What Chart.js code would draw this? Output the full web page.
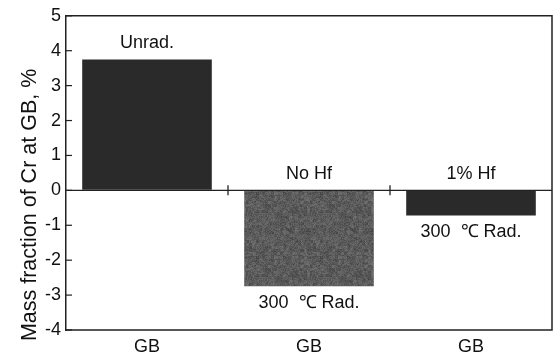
<!DOCTYPE html>
<html>
<head>
<meta charset="utf-8">
<script src="https://cdn.jsdelivr.net/npm/chart.js@4"></script>
<style>
html,body{margin:0;padding:0;background:#fff;}
#wrap{width:556px;height:357px;position:relative;}
</style>
</head>
<body>
<div id="wrap"><canvas id="c" width="556" height="357"></canvas></div>
<script>
// ---- data ----
const categories = ['GB', 'GB', 'GB'];
const values = [3.75, -2.75, -0.72];
const topLabels = ['Unrad.', 'No Hf', '1% Hf'];
const bottomLabels = ['', '300  \u2103 Rad.', '300  \u2103 Rad.'];
const yTicks = [-4, -3, -2, -1, 0, 1, 2, 3, 4, 5];
const yTitle = 'Mass fraction of Cr at GB, %';

const FONT = '"Liberation Sans", Arial, sans-serif';
const INK = '#222';

// deterministic grainy gray texture for the middle bar
function makeTexture() {
  const c = document.createElement('canvas');
  c.width = 64; c.height = 64;
  const g = c.getContext('2d');
  const img = g.createImageData(64, 64);
  for (let y = 0; y < 64; y++) {
    for (let x = 0; x < 64; x++) {
      const h = Math.sin(x * 12.9898 + y * 78.233) * 43758.5453;
      const f = h - Math.floor(h);
      const h2 = Math.sin(Math.floor(x / 3) * 4.1 + Math.floor(y / 3) * 9.7) * 1000.3;
      const f2 = h2 - Math.floor(h2);
      const v = Math.round(66 + f * 28 + f2 * 22);
      const i = (y * 64 + x) * 4;
      img.data[i] = v; img.data[i + 1] = v; img.data[i + 2] = v; img.data[i + 3] = 255;
    }
  }
  g.putImageData(img, 0, 0);
  return g.createPattern(c, 'repeat');
}
const ctx0 = document.getElementById('c').getContext('2d');
const tex = makeTexture();
const barColors = ['#2a2a2a', tex, '#2a2a2a'];

const decor = {
  id: 'decor',
  afterDraw(chart) {
    const ctx = chart.ctx;
    const a = chart.chartArea;
    const y = chart.scales.y, x = chart.scales.x;
    ctx.save();
    ctx.strokeStyle = INK;
    ctx.lineWidth = 1.5;
    // frame (top, right, bottom)
    ctx.beginPath();
    ctx.moveTo(a.left, a.top); ctx.lineTo(a.right, a.top);
    ctx.lineTo(a.right, a.bottom); ctx.lineTo(a.left, a.bottom);
    ctx.stroke();
    // inward y ticks
    ctx.lineWidth = 1.2;
    yTicks.forEach(v => {
      const py = y.getPixelForValue(v);
      ctx.beginPath(); ctx.moveTo(a.left, py); ctx.lineTo(a.left + 6, py); ctx.stroke();
    });
    // zero line with category boundary ticks
    const zy = y.getPixelForValue(0);
    ctx.lineWidth = 1.3;
    ctx.beginPath(); ctx.moveTo(a.left, zy); ctx.lineTo(a.right, zy); ctx.stroke();
    for (let i = 1; i < categories.length; i++) {
      const bx = (x.getPixelForValue(i - 1) + x.getPixelForValue(i)) / 2;
      ctx.beginPath(); ctx.moveTo(bx, zy - 5); ctx.lineTo(bx, zy + 5); ctx.stroke();
    }
    // annotations
    ctx.fillStyle = '#111';
    ctx.font = '18px ' + FONT;
    ctx.textAlign = 'center';
    const meta = chart.getDatasetMeta(0);
    values.forEach((v, i) => {
      const bar = meta.data[i];
      const cx = bar.x;
      const topY = y.getPixelForValue(Math.max(v, 0));
      ctx.textBaseline = 'alphabetic';
      if (topLabels[i]) ctx.fillText(topLabels[i], cx, topY - 11);
      if (bottomLabels[i]) {
        const botY = y.getPixelForValue(Math.min(v, 0));
        ctx.textBaseline = 'top';
        ctx.fillText(bottomLabels[i], cx, botY + 8);
      }
    });
    // y title
    ctx.font = '21.5px ' + FONT;
    ctx.translate(30, (a.top + a.bottom) / 2 + 32);
    ctx.rotate(-Math.PI / 2);
    ctx.textBaseline = 'middle';
    ctx.fillText(yTitle, 0, 0);
    ctx.restore();
  }
};

new Chart(ctx0, {
  type: 'bar',
  data: {
    labels: categories,
    datasets: [{
      data: values,
      backgroundColor: barColors,
      borderWidth: 0,
      barPercentage: 0.8,
      categoryPercentage: 1.0
    }]
  },
  options: {
    responsive: false,
    animation: false,
    devicePixelRatio: 1,
    layout: { padding: { top: 11, right: 4, left: 0, bottom: 0 } },
    plugins: { legend: { display: false }, tooltip: { enabled: false } },
    scales: {
      x: {
        grid: { display: false, drawTicks: false },
        border: { display: false },
        ticks: { color: '#111', font: { size: 18, family: FONT }, padding: 6 },
        afterFit(s) { s.height = 27; }
      },
      y: {
        min: -4, max: 5,
        afterBuildTicks(s) { s.ticks = yTicks.map(v => ({ value: v })); },
        grid: { drawOnChartArea: false, drawTicks: false },
        border: { display: true, color: INK, width: 1.5 },
        ticks: { color: '#111', font: { size: 18, family: FONT }, padding: 5 },
        afterFit(s) { s.width = 66; }
      }
    }
  },
  plugins: [decor]
});
</script>
</body>
</html>
